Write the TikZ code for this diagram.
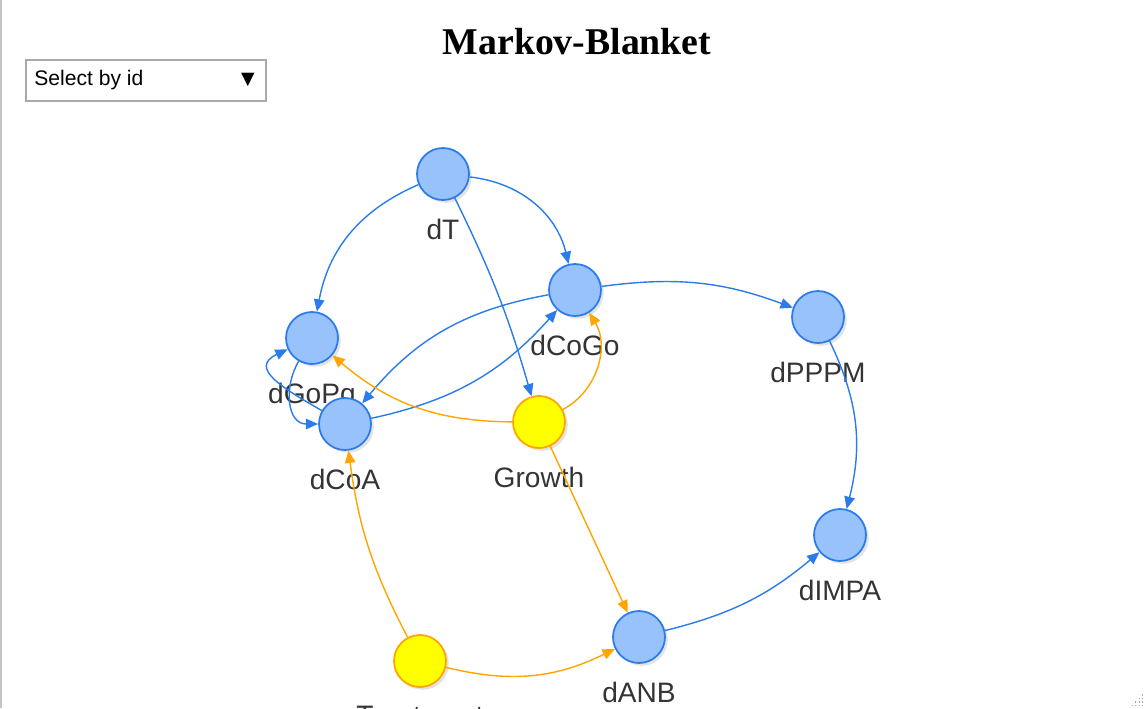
\documentclass[tikz,border=0pt]{standalone}
\usepackage{fontspec}
\setmainfont{Liberation Sans}
\newfontfamily\titlefont{Liberation Serif}
\newfontfamily\symbolfont{DejaVu Sans}
\usetikzlibrary{arrows.meta,shadows}

\definecolor{varfill}{HTML}{97C2FC}
\definecolor{varline}{HTML}{2B7CE9}
\definecolor{extfill}{HTML}{FFFF00}
\definecolor{extline}{HTML}{FFA500}
\definecolor{labelgray}{HTML}{343434}
\definecolor{boxgray}{HTML}{A9A9A9}
\definecolor{framegray}{HTML}{C4C4C4}

\tikzset{
  var/.style={circle, draw=varline, fill=varfill, line width=1pt,
    minimum size=1.04cm, inner sep=0pt,
    drop shadow={shadow xshift=1.6pt, shadow yshift=-1.6pt, opacity=0.22}},
  ext/.style={var, draw=extline, fill=extfill},
  lbl/.style={label distance=0.36cm, font=\fontsize{16}{19}\selectfont, text=labelgray, inner sep=0pt},
  blueedge/.style={-{Triangle[length=7pt,width=6pt]}, varline, line width=0.8pt},
  orangeedge/.style={blueedge, extline},
}

\begin{document}
\begin{tikzpicture}[x=0.02cm, y=0.02cm]
    \useasboundingbox (0,0) rectangle (1146,-708);
    \clip (0,0) rectangle (1146,-708);

    % Marco izquierdo y selector
    \fill[framegray] (0,0) rectangle (2,-708);
    \node[font=\titlefont\bfseries\fontsize{21.5}{25}\selectfont] (title) at (577,-42) {Markov-Blanket};
    \draw[boxgray, line width=0.6pt] (26,-60) rectangle (266,-101);
    \node[anchor=west, inner sep=0pt, font=\fontsize{12}{14}\selectfont] (select) at (34,-80) {Select by id};
    \node[inner sep=0pt, font=\symbolfont\fontsize{10}{12}\selectfont] (arrowdown) at (248,-80) {▼};

    % Variables
    \node[var, label={[lbl]below:dT}] (dT) at (443,-174) {};
    \node[var, label={[lbl]below:dCoGo}] (dCoGo) at (575,-290) {};
    \node[var, label={[lbl]below:dGoPg}] (dGoPg) at (312,-338) {};
    \node[var, label={[lbl]below:dCoA}] (dCoA) at (345,-424) {};
    \node[var, label={[lbl]below:dPPPM}] (dPPPM) at (818,-317) {};
    \node[var, label={[lbl]below:dIMPA}] (dIMPA) at (840,-535) {};
    \node[var, label={[lbl]below:dANB}] (dANB) at (639,-637) {};

    % Nodos externos
    \node[ext, label={[lbl]below:Growth}] (Growth) at (539,-422) {};
    \node[ext, label={[lbl]below:Treatment}] (Treatment) at (420,-661) {};

    % Arcos desde dT
    \draw[blueedge] (dT) to[bend right=28] (dGoPg);
    \draw[blueedge] (dT) to[bend left=35] (dCoGo);
    \draw[blueedge] (dT) to[bend left=5] (Growth);

    % Arcos entre variables
    \draw[blueedge] (dCoGo) to[bend left=14] (dPPPM);
    \draw[blueedge] (dPPPM) to[bend left=20] (dIMPA);
    \draw[blueedge] (dANB) to[bend right=13] (dIMPA);
    \draw[blueedge] (dCoGo) to[bend right=20] (dCoA);
    \draw[blueedge] (dCoA) to[bend right=18] (dCoGo);
    \draw[blueedge] (dGoPg) to[out=-120, in=180, looseness=1.2] (dCoA);
    \draw[blueedge] (dCoA) to[out=150, in=205, looseness=1.6] (dGoPg);

    % Arcos desde Growth
    \draw[orangeedge] (Growth) to[bend left=20] (dGoPg);
    \draw[orangeedge] (Growth) to[bend right=47] (dCoGo);
    \draw[orangeedge] (Growth) -- (dANB);

    % Arcos desde Treatment
    \draw[orangeedge] (Treatment) to[bend left=10] (dCoA);
    \draw[orangeedge] (Treatment) to[bend right=20] (dANB);

    % Esquina de redimensionar
    \foreach \n in {0,...,3}
      \foreach \m in {0,...,\n}
        \fill[boxgray] ({1142-(\n-\m)*3.5},{-706+\m*3.5}) rectangle +(1.3,1.3);
\end{tikzpicture}
\end{document}
